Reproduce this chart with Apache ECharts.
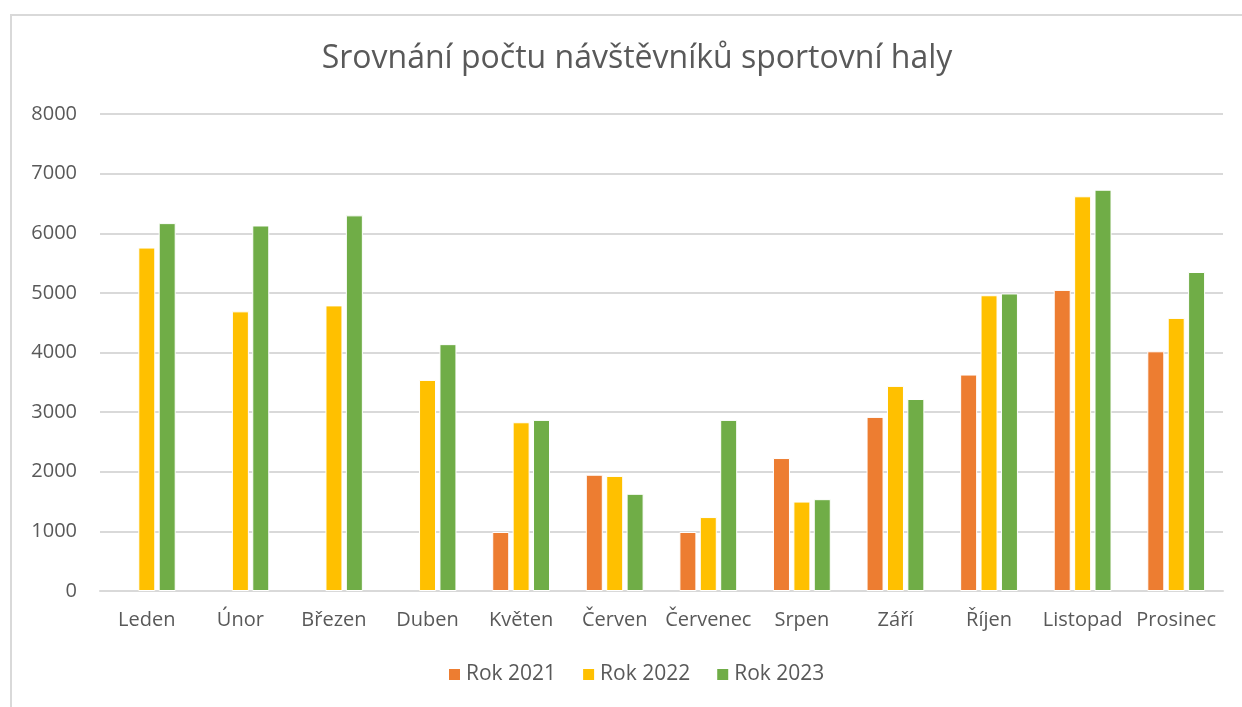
<!DOCTYPE html>
<html>
<head>
<meta charset="utf-8">
<script src="https://cdn.jsdelivr.net/npm/echarts@6/dist/echarts.min.js"></script>
<style>
html,body{margin:0;padding:0;background:#fff;}
#c{width:1242px;height:707px;}
</style>
</head>
<body>
<div id="c"></div>
<script>
const categories = ['Leden','Únor','Březen','Duben','Květen','Červen','Červenec','Srpen','Září','Říjen','Listopad','Prosinec'];
const seriesNames = ['Rok 2021','Rok 2022','Rok 2023'];
const rok2021 = [null, null, null, null, 990, 1950, 990, 2230, 2920, 3630, 5050, 4020];
const rok2022 = [5760, 4690, 4790, 3540, 2830, 1930, 1240, 1500, 3440, 4960, 6620, 4580];
const rok2023 = [6170, 6130, 6300, 4140, 2870, 1630, 2870, 1540, 3220, 4990, 6730, 5350];
const yTicks = [0, 1000, 2000, 3000, 4000, 5000, 6000, 7000, 8000];
const colors = ['#ED7D31', '#FFC000', '#70AD47'];

const FONT = '"Open Sans", "Noto Sans", sans-serif';
const TXT = '#595959';

const chart = echarts.init(document.getElementById('c'), null, {renderer: 'canvas'});
const values = [rok2021, rok2022, rok2023];
chart.setOption({
  animation: false,
  backgroundColor: '#ffffff',
  color: colors,
  title: {
    text: 'Srovnání počtu návštěvníků sportovní haly',
    left: 632,
    textAlign: 'center',
    top: 38,
    textStyle: {fontFamily: FONT, fontSize: 32, fontWeight: 'normal', color: TXT}
  },
  legend: {
    data: seriesNames,
    bottom: 17,
    left: 442,
    itemWidth: 13,
    itemHeight: 13,
    itemGap: 25,
    icon: 'rect',
    textStyle: {fontFamily: FONT, fontSize: 21, color: TXT}
  },
  graphic: [{
    type: 'rect',
    shape: {x: 11, y: 15, width: 1400, height: 900},
    style: {fill: 'none', stroke: '#d9d9d9', lineWidth: 2},
    silent: true
  }],
  grid: {left: 100, right: 19, top: 114, bottom: 116, containLabel: false},
  xAxis: {
    type: 'category',
    data: categories,
    axisLine: {show: true, lineStyle: {color: '#d9d9d9', width: 2}},
    axisTick: {show: false},
    axisLabel: {fontFamily: FONT, fontSize: 20, color: TXT, margin: 19, interval: 0}
  },
  yAxis: {
    type: 'value',
    min: yTicks[0],
    max: yTicks[yTicks.length - 1],
    interval: yTicks[1] - yTicks[0],
    axisLine: {show: false},
    axisTick: {show: false},
    splitLine: {lineStyle: {color: '#d9d9d9', width: 2}},
    axisLabel: {fontFamily: FONT, fontSize: 20, color: TXT, margin: 23, formatter: v => String(v)}
  },
  series: seriesNames.map((n, i) => ({
    name: n,
    type: 'bar',
    data: values[i],
    barWidth: 17,
    barGap: '20%',
    itemStyle: {color: colors[i], borderColor: '#ffffff', borderWidth: 1}
  }))
});
</script>
</body>
</html>
